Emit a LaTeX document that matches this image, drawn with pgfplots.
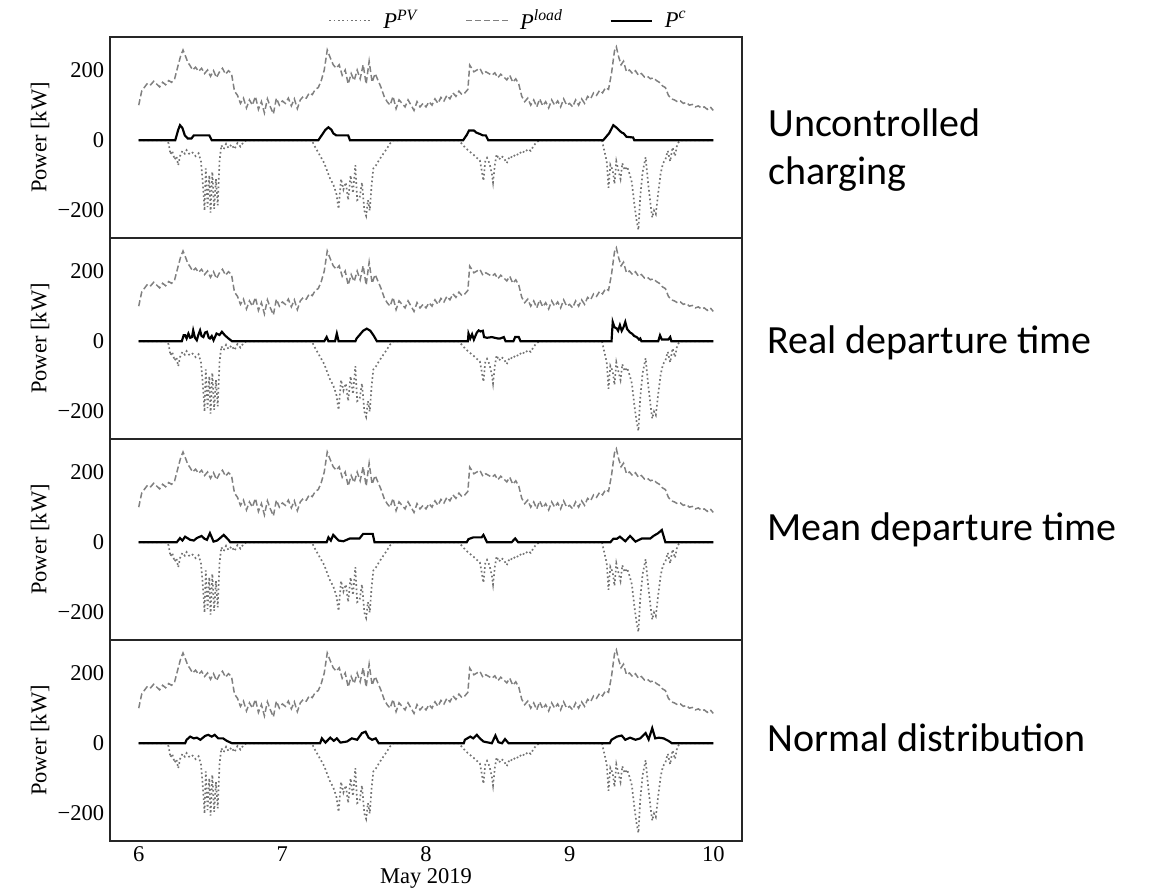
\documentclass[border=0pt]{standalone}
\usepackage{fontspec}
\setmainfont{Liberation Serif}
\newfontfamily\calibri{Carlito}
\usepackage{pgfplots}
\usepackage{pgfplotstable}
\pgfplotsset{compat=1.18}
\usepgfplotslibrary{groupplots}

% hours since 6 May 2019 00:00, power in kW
\pgfplotstableread{
h p
0 100
0.5 140
1 152
1.5 163
2 158
2.5 168
3 160
3.5 152
4 165
4.5 158
5 170
5.5 165
6 175
6.5 208
7 240
7.4 257
7.8 240
8.2 222
8.6 212
9 200
9.5 208
10 196
10.5 205
11 190
11.5 200
12 182
12.5 198
13 178
13.5 195
14 205
14.5 188
15 198
15.5 190
16 140
16.5 128
17 105
17.5 120
18 92
18.5 115
19 100
19.5 125
20 88
20.5 110
21 78
21.5 118
22 95
22.5 75
23 120
23.5 100
24 112
24.5 105
25 120
25.5 98
26 118
26.5 90
27 115
27.5 125
28 120
28.5 135
29 130
29.5 145
30 150
30.5 170
31 200
31.5 257
32 235
32.5 215
33 205
33.5 215
34 185
34.5 200
35 160
35.5 190
36 170
36.5 200
37 175
37.5 215
38 160
38.5 225
39 165
39.5 190
40 170
40.5 150
41 125
41.5 110
42 100
42.5 125
43 90
43.5 115
44 105
44.5 95
45 115
45.5 100
46 85
46.5 110
47 95
47.5 105
48 95
48.5 110
49 100
49.5 118
50 105
50.5 122
51 112
51.5 128
52 118
52.5 135
53 125
53.5 140
54 130
54.5 135
55 145
55.3 214
56 195
56.5 200
57 205
57.5 188
58 195
58.5 190
59 185
59.5 192
60 178
60.5 188
61 180
61.5 172
62 185
62.5 165
63 175
63.5 160
64 125
64.5 110
65 120
65.5 100
66 115
66.5 95
67 118
67.5 98
68 110
68.5 92
69 115
69.5 100
70 112
70.5 95
71 118
71.5 100
72 105
72.5 95
73 115
73.5 100
74 118
74.5 105
75 125
75.5 118
76 135
76.5 128
77 142
77.5 135
78 150
78.5 145
79 191
79.5 255
79.8 266
80.2 237
80.6 215
81 225
81.5 195
82 200
82.5 190
83 198
83.5 185
84 190
84.5 180
85 182
85.5 175
86 178
86.5 170
87 165
87.5 155
88 150
88.5 128
89 118
89.5 115
90 110
90.5 112
91 105
91.5 108
92 100
92.5 102
93 95
93.5 98
94 92
94.5 95
95 88
95.5 95
96 85
}\loadtab

\pgfplotstableread{
h p
0 0
4.7 0
5 -9
5.3 -40
5.6 -30
6 -55
6.3 -45
6.6 -71
6.9 -45
7.3 -30
7.7 -38
8 -28
8.5 -40
9 -35
9.5 -45
10 -37
10.4 -60
10.7 -120
11 -200
11.2 -80
11.5 -190
11.8 -100
12 -206
12.3 -90
12.6 -195
12.9 -110
13.2 -185
13.5 -60
13.8 -14
14.2 -25
14.6 -10
15 -22
15.5 -12
16 -25
16.5 -8
17 -18
17.5 -5
18 0
28.9 0
29.5 -20
30 -35
30.5 -50
31 -65
31.5 -88
32 -110
32.5 -125
33 -150
33.4 -195
33.8 -110
34.2 -140
34.6 -120
35 -170
35.4 -100
35.8 -150
36.2 -71
36.5 -170
36.9 -165
37.3 -120
37.7 -200
38.0 -215
38.3 -170
38.6 -200
38.9 -130
39.2 -80
39.7 -70
40.2 -55
40.8 -40
41.4 -25
42 -9
42.5 0
53.4 0
54 -10
54.5 -20
55 -28
55.5 -35
56 -42
56.5 -50
57 -57
57.3 -85
57.6 -115
57.9 -60
58.2 -50
58.6 -65
59 -95
59.2 -120
59.5 -70
59.8 -40
60.2 -55
60.6 -45
61 -50
61.5 -65
62 -45
62.5 -50
63 -38
63.5 -42
64 -30
64.5 -35
65 -25
65.5 -30
66 -15
66.5 -5
67 0
77.4 0
77.8 -30
78.2 -60
78.5 -135
78.8 -70
79.2 -85
79.5 -124
79.8 -60
80.2 -90
80.5 -110
80.8 -65
81.2 -85
81.6 -75
82 -95
82.4 -120
82.8 -180
83.2 -230
83.5 -255
83.8 -160
84.2 -90
84.7 -48
85.1 -120
85.5 -180
85.8 -220
86.1 -200
86.4 -210
86.8 -150
87.2 -95
87.6 -65
88 -55
88.4 -30
88.8 -60
89.2 -20
89.6 -45
90 -10
90.5 0
96 0
}\pvtab

% charging power, uncontrolled
\pgfplotstableread{
h p
0 0
6.1 0
6.6 30
6.9 43
7.3 35
7.7 14
8.2 5
8.8 5
9.2 14
11.8 14
12.2 0
30 0
30.6 15
31.2 30
31.7 37
32.2 30
32.5 20
33 14
35 14
35.3 0
54.2 0
54.8 15
55.2 28
56 28
56.4 22
57 18
57.5 14
58 14
58.4 0
77.6 0
78.1 10
78.6 20
79.3 43
79.9 35
80.3 28
80.7 22
81 20
81.5 10
82.6 8
82.8 0
96 0
}\ctabA

% real departure time
\pgfplotstableread{
h p
0 0
7.2 0
7.5 17
7.75 17
8.0 8
8.3 22
8.6 10
8.9 12
9.1 31
9.4 10
9.7 3
10.0 20
10.25 31
10.5 15
10.8 12
11.1 25
11.4 27
11.7 10
11.9 8
12.2 15
12.5 3
13.0 22
13.5 18
13.9 27
14.4 17
15.0 8
15.6 0
31.0 0
31.4 12
31.7 0
32.8 0
33.1 22
33.4 0
36.2 0
36.4 8
37.0 20
37.5 30
38.1 36
38.7 30
39.3 15
39.8 0
55.0 0
55.1 22
55.4 8
55.7 20
56.0 5
56.5 25
56.8 31
57.1 28
57.5 30
57.7 12
58.2 10
59 12
60 8
60.4 8
61 12
61.3 0
62.6 0
62.9 12
63.5 12
63.8 0
79.0 0
79.2 55
79.5 40
79.9 36
80.1 30
80.4 46
80.7 30
81.0 40
81.3 55
81.6 35
81.8 31
82.1 25
82.4 22
82.8 15
83.2 12
83.6 5
83.8 8
84.0 0
86.8 0
87.1 17
87.4 5
88.5 5
88.8 12
89.0 0
96 0
}\ctabB

% mean departure time
\pgfplotstableread{
h p
0 0
6.35 0
6.9 12
7.3 5
7.75 16
8.6 7
9.2 5
9.7 12
10.5 18
11.0 10
11.4 7
11.9 26
12.5 2
13.1 5
13.6 12
14.2 21
15.0 7
15.3 0
31.4 0
31.7 14
32.1 5
32.5 21
33.4 5
34.2 3
35.3 11
36.9 11
37.5 24
39.1 24
39.4 0
54.8 0
55.1 9
55.9 14
57.3 14
57.6 21
58.2 0
62.3 0
62.9 11
63.4 0
78.8 0
79.3 10
79.9 10
80.4 16
81.3 3
82.1 18
83.0 2
84.1 11
85.5 11
86.0 18
86.8 26
87.4 35
88.0 0
96 0
}\ctabC

% normal distribution
\pgfplotstableread{
h p
0 0
7.75 0
8.0 10
8.6 19
9.2 14
9.7 16
10.3 10
11.1 21
11.6 24
12.2 19
12.7 24
13.3 14
14.1 14
14.7 7
15.6 0
30.3 0
30.6 14
31.2 2
32.0 16
32.6 7
33.1 14
33.7 2
34.8 5
35.6 14
36.5 10
37.3 29
37.9 33
38.4 16
39.0 10
39.6 14
40.1 0
54.3 0
54.5 10
55.4 19
55.9 14
56.5 24
57.0 14
57.6 5
59.0 0
59.6 22
60.1 3
60.7 0
61.2 12
61.8 0
78.7 0
79.0 10
79.9 19
80.7 22
81.3 10
82.1 16
83.0 10
83.8 14
84.7 29
85.2 11
85.8 43
86.3 14
86.9 16
87.7 14
88.5 7
89.1 0
96 0
}\ctabD

\pgfplotsset{
  pvline/.style={black!55, line width=1pt, dash pattern=on 1pt off 1.6pt},
  loadline/.style={black!50, line width=0.9pt, dash pattern=on 3.6pt off 1.8pt},
  cline/.style={black, line width=1.3pt},
}
\newcommand\tfont{\fontsize{13.5}{16}\selectfont}
\newcommand\rfont{\calibri\fontsize{24}{28.8}\selectfont}

\begin{document}
\begin{tikzpicture}
\begin{groupplot}[
  group style={group size=1 by 4, vertical sep=0pt,
    xticklabels at=edge bottom, xlabels at=edge bottom},
  width=379.2pt, height=120.6pt, scale only axis,
  xmin=5.8, xmax=10.2, ymin=-278, ymax=294,
  xtick={6,7,8,9,10}, xticklabels={6,7,8,9,10},
  ytick={-200,0,200}, yticklabels={−200,0,200},
  major tick length=0pt,
  axis line style={black!85, line width=1.4pt},
  tick label style={font=\tfont},
  ylabel={Power [kW]},
  ylabel style={at={(axis description cs:-0.1108,0.5)}, anchor=center, font=\tfont},
  xlabel={May 2019},
  xlabel style={at={(axis description cs:0.5,0)}, anchor=north, inner sep=0pt, yshift=-16.5pt, font=\tfont},
]
\nextgroupplot[
  legend columns=3,
  legend style={draw=none, fill=none, at={(0.345,1)}, anchor=south west, yshift=1pt,
    font=\tfont, inner sep=0pt,
    /tikz/every odd column/.append style={column sep=5pt},
    /tikz/every even column/.append style={column sep=26pt}},
  legend image code/.code={\draw[#1] (0pt,0pt) -- (25pt,0pt);},
]
\addplot[pvline] table[x expr=6+\thisrow{h}/24, y=p] {\pvtab};
\addlegendentry{\textit{P}\textsuperscript{\textit{PV}}}
\addplot[loadline] table[x expr=6+\thisrow{h}/24, y=p] {\loadtab};
\addlegendentry{\textit{P}\textsuperscript{\textit{load}}}
\addplot[cline] table[x expr=6+\thisrow{h}/24, y=p] {\ctabA};
\addlegendentry{\textit{P}\textsuperscript{\textit{c}}}
\nextgroupplot
\addplot[pvline] table[x expr=6+\thisrow{h}/24, y=p] {\pvtab};
\addplot[loadline] table[x expr=6+\thisrow{h}/24, y=p] {\loadtab};
\addplot[cline] table[x expr=6+\thisrow{h}/24, y=p] {\ctabB};
\nextgroupplot
\addplot[pvline] table[x expr=6+\thisrow{h}/24, y=p] {\pvtab};
\addplot[loadline] table[x expr=6+\thisrow{h}/24, y=p] {\loadtab};
\addplot[cline] table[x expr=6+\thisrow{h}/24, y=p] {\ctabC};
\nextgroupplot
\addplot[pvline] table[x expr=6+\thisrow{h}/24, y=p] {\pvtab};
\addplot[loadline] table[x expr=6+\thisrow{h}/24, y=p] {\loadtab};
\addplot[cline] table[x expr=6+\thisrow{h}/24, y=p] {\ctabD};
\end{groupplot}
\coordinate (tl) at ([xshift=-66pt,yshift=22.2pt]group c1r1.north west);
\pgfresetboundingbox
\path[use as bounding box] (tl) rectangle ([xshift=690.6pt,yshift=-534.6pt]tl);
\node[anchor=base west, inner sep=0pt, font=\rfont] at ([xshift=460.8pt,yshift=-82.2pt]tl) {Uncontrolled};
\node[anchor=base west, inner sep=0pt, font=\rfont] at ([xshift=460.8pt,yshift=-111pt]tl) {charging};
\node[anchor=base west, inner sep=0pt, font=\rfont] at ([xshift=460.2pt,yshift=-212.4pt]tl) {Real departure time};
\node[anchor=base west, inner sep=0pt, font=\rfont] at ([xshift=460.2pt,yshift=-324.6pt]tl) {Mean departure time};
\node[anchor=base west, inner sep=0pt, font=\rfont] at ([xshift=460.2pt,yshift=-450.6pt]tl) {Normal distribution};
\end{tikzpicture}
\end{document}
